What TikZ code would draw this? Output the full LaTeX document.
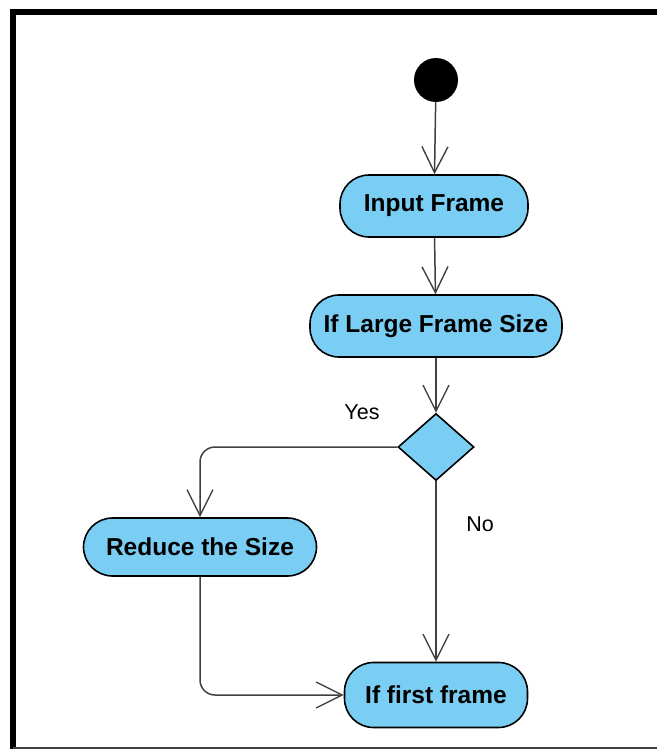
\documentclass[tikz,border=0pt]{standalone}
\usepackage{fontspec}
\setmainfont{Liberation Sans}
\usetikzlibrary{arrows.meta,shapes.geometric}
\definecolor{actfill}{RGB}{122,206,244}
\definecolor{flowline}{RGB}{64,64,64}
\begin{document}
\begin{tikzpicture}[x=1pt,y=-1pt,
  action/.style={draw=black, line width=1.6pt, fill=actfill, rounded corners=29pt,
    inner sep=0pt, font=\fontsize{24.5}{28}\selectfont\bfseries},
  decision/.style={draw=black, line width=1.6pt, fill=actfill, diamond, inner sep=0pt,
    minimum width=76pt, minimum height=67pt},
  flow/.style={draw=flowline, line width=1.5pt,
    -{Straight Barb[length=26pt,width=26pt,line width=1.4pt]}},
  guard/.style={font=\fontsize{21.5}{25}\selectfont, text=black}]
  \useasboundingbox (0,0) rectangle (657,749);
  \fill[white] (0,0) rectangle (657,749);
  % outer frame
  \draw[line width=6pt, black] (13,749) -- (13,12) -- (657,12);
  \draw[line width=2pt, flowline] (13,748) -- (657,748);

  \node[circle, fill=black, minimum size=44pt, inner sep=0pt] (start) at (436,80) {};
  \node[action, minimum width=188pt, minimum height=62pt] (input) at (434,206) {Input Frame};
  \node[action, minimum width=252pt, minimum height=62pt] (large) at (436,326) {If Large Frame Size};
  \node[decision] (dec) at (436,447) {};
  \node[action, minimum width=233pt, minimum height=58pt] (reduce) at (200,547) {Reduce the Size};
  \node[action, minimum width=183pt, minimum height=65pt] (first) at (436,695) {If first frame};

  \node[guard] (yes) at (362,412) {Yes};
  \node[guard] (no) at (480,524) {No};

  \draw[flow] (start) -- (input);
  \draw[flow] (input) -- (large);
  \draw[flow] (large) -- (dec);
  \draw[flow, rounded corners=15pt] (dec.west) -| (reduce.north);
  \draw[flow] (dec.south) -- (first.north);
  \draw[flow, rounded corners=15pt] (reduce.south) |- (first.west);
\end{tikzpicture}
\end{document}
